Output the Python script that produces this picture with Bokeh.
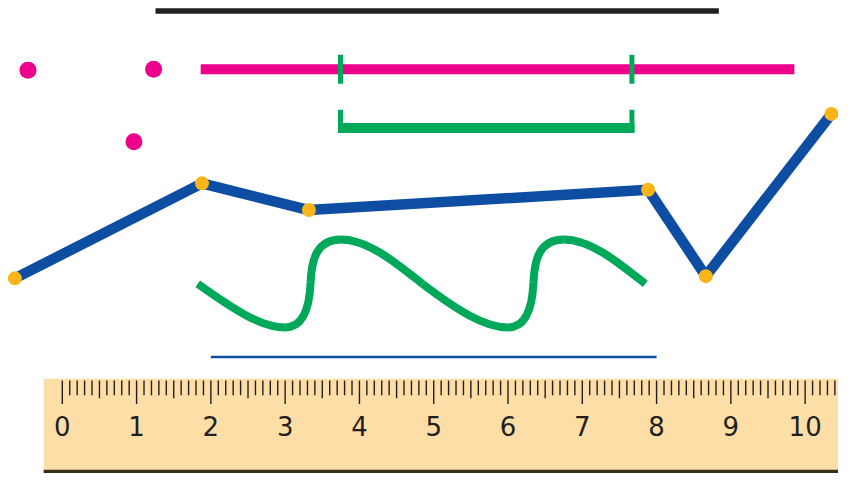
from bokeh.plotting import figure
from bokeh.models import Range1d
from bokeh.core.properties import value
from bokeh.embed import file_html
from bokeh.resources import INLINE

# ---- data (units: ruler centimetres; x along ruler, y above ruler top edge) ----
black_seg_x = [1.255, 8.838]
black_seg_y = [5.02, 5.02]

magenta_pts_x = [-0.462, 1.229, 0.964]
magenta_pts_y = [4.214, 4.227, 3.236]

magenta_seg_x = [1.863, 9.855]
magenta_seg_y = [4.227, 4.227]

green_tick_x = [3.745, 7.668]
green_tick_y0 = [4.425, 4.425]
green_tick_y1 = [4.029, 4.029]

bracket_x0 = 3.712
bracket_x1 = 7.702
bracket_y = 3.425
bracket_top = 3.672

blue_path_x = [-0.638, 1.880, 3.320, 7.886, 8.662, 10.353]
blue_path_y = [1.370, 2.668, 2.303, 2.580, 1.400, 3.616]

# green wavy curve as cubic Bezier segments
curve_x0 = [1.823, 2.999, 3.342, 3.752, 4.848, 5.999, 6.342, 6.752]
curve_y0 = [1.295, 0.700, 1.308, 1.902, 1.295, 0.700, 1.308, 1.902]
curve_x1 = [2.999, 3.342, 3.752, 4.848, 5.999, 6.342, 6.752, 7.848]
curve_y1 = [0.700, 1.308, 1.902, 1.295, 0.700, 1.308, 1.902, 1.295]
curve_cx0 = [2.312, 3.263, 3.355, 4.122, 5.312, 6.263, 6.355, 7.122]
curve_cy0 = [0.938, 0.700, 1.625, 1.902, 0.938, 0.700, 1.625, 1.902]
curve_cx1 = [2.682, 3.329, 3.421, 4.518, 5.682, 6.329, 6.421, 7.518]
curve_cy1 = [0.700, 1.004, 1.902, 1.559, 0.700, 1.004, 1.902, 1.559]

thin_seg_x = [2.0, 8.0]
thin_seg_y = [0.297, 0.297]

ruler_labels = ["0", "1", "2", "3", "4", "5", "6", "7", "8", "9", "10"]
ruler_label_x = [0, 1, 2, 3, 4, 5, 6, 7, 8, 9, 10]
ruler_left = -0.251
ruler_right = 10.6
ruler_top = 0.0
ruler_bottom = -1.30
ruler_mm_count = 104  # millimetre ticks from 0 to 10.4

# ---- colours ----
BLACK = "#231f20"
MAGENTA = "#ec008c"
GREEN = "#00a85a"
BLUE = "#0d4ea2"
YELLOW = "#fbb519"
RULER = "#fddea6"
RULER_EDGE = "#3b2e17"

W, H = 838, 473
p = figure(width=W, height=H, output_backend="svg", toolbar_location=None,
           x_range=Range1d(-0.832, 10.449), y_range=Range1d(-1.295, 5.165),
           min_border=0, min_border_left=0, min_border_right=0,
           min_border_top=0, min_border_bottom=0)
p.axis.visible = False
p.grid.visible = False
p.outline_line_color = None
p.background_fill_color = "white"
p.border_fill_color = "white"

# ruler
p.quad(left=[ruler_left], right=[ruler_right], top=[ruler_top], bottom=[ruler_bottom],
       fill_color=RULER, line_color=None)
p.quad(left=[ruler_left], right=[ruler_right], top=[ruler_bottom + 0.055], bottom=[ruler_bottom],
       fill_color=RULER_EDGE, line_color=None)

tick_x, tick_y0, tick_y1 = [], [], []
for i in range(ruler_mm_count + 1):
    x = i / 10
    if i % 10 == 0:
        length = 0.32
    elif i % 5 == 0:
        length = 0.24
    else:
        length = 0.20
    tick_x.append(x)
    tick_y0.append(-0.026)
    tick_y1.append(-0.026 - length)
p.segment(x0=tick_x, y0=tick_y0, x1=tick_x, y1=tick_y1, line_color=BLACK, line_width=1.4)

p.text(x=ruler_label_x, y=[-0.64] * len(ruler_label_x), text=ruler_labels,
       text_font=value("DejaVu Sans"), text_font_size="26px", text_color=BLACK,
       text_align="center", text_baseline="middle")

# black segment
p.line(black_seg_x, black_seg_y, line_color=BLACK, line_width=5.5)

# magenta points and segment
p.scatter(magenta_pts_x, magenta_pts_y, size=17, fill_color=MAGENTA, line_color=None)
p.line(magenta_seg_x, magenta_seg_y, line_color=MAGENTA, line_width=10)
p.segment(x0=green_tick_x, y0=green_tick_y0, x1=green_tick_x, y1=green_tick_y1,
          line_color=GREEN, line_width=5)

# green bracket
p.segment(x0=[bracket_x0], y0=[bracket_y], x1=[bracket_x1], y1=[bracket_y],
          line_color=GREEN, line_width=10)
p.segment(x0=green_tick_x, y0=[bracket_top] * 2, x1=green_tick_x, y1=[bracket_y - 0.06] * 2,
          line_color=GREEN, line_width=5)

# blue broken line
p.multi_line(xs=[blue_path_x[i:i + 2] for i in range(len(blue_path_x) - 1)],
             ys=[blue_path_y[i:i + 2] for i in range(len(blue_path_y) - 1)],
             line_color=BLUE, line_width=10.5)
p.scatter(blue_path_x, blue_path_y, size=14, fill_color=YELLOW, line_color=None)

# green curve
p.bezier(x0=curve_x0, y0=curve_y0, x1=curve_x1, y1=curve_y1,
         cx0=curve_cx0, cy0=curve_cy0, cx1=curve_cx1, cy1=curve_cy1,
         line_color=GREEN, line_width=8)

# thin blue segment
p.line(thin_seg_x, thin_seg_y, line_color=BLUE, line_width=2.5)

open("out.html", "w").write(file_html(p, INLINE))
